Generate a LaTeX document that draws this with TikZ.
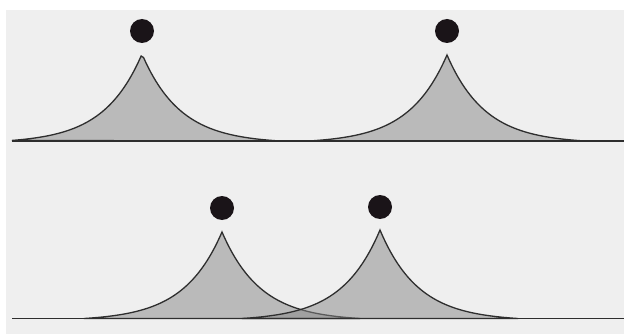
\documentclass[tikz,border=0pt]{standalone}
\usepackage{tikz}
\usetikzlibrary{positioning}
\definecolor{paper}{HTML}{EFEFEF}
\definecolor{ink}{HTML}{2E2E2E}
\definecolor{ball}{HTML}{1A1418}

\begin{document}
\begin{tikzpicture}[x=1pt, y=-1pt,
      hump/.style={draw=ink, line width=1.3pt, fill=black!47, fill opacity=0.5},
      ground/.style={draw=ink, line width=1.5pt},
      dot/.style={circle, fill=ball, minimum size=24pt, inner sep=0pt}
    ]
    \useasboundingbox (0,0) rectangle (624,334);
    \fill[paper] (6,10) rectangle (624,334);

    % humps: peak x / peak y / baseline y / left reach
    \foreach \px/\py/\b/\l in {142/54/141/130, 447/55/141/138, 222/232/318.5/138, 380/230/318.5/138}
      \draw[hump] plot[domain=-\l:138, samples=111, variable=\t]
        ({\px+\t}, {\b-(\b-\py)*(exp(-3.6*abs(\t)/138)-exp(-3.6))/(1-exp(-3.6))}) -- cycle;

    \draw[ground] (12,141) -- (624,141);
    \draw[ground] (12,318.5) -- (624,318.5);

    \node[dot] (topA) at (142,31)  {};
    \node[dot] (topB) at (447,31)  {};
    \node[dot] (botA) at (222,208) {};
    \node[dot] (botB) at (380,207) {};
  \end{tikzpicture}
\end{document}
